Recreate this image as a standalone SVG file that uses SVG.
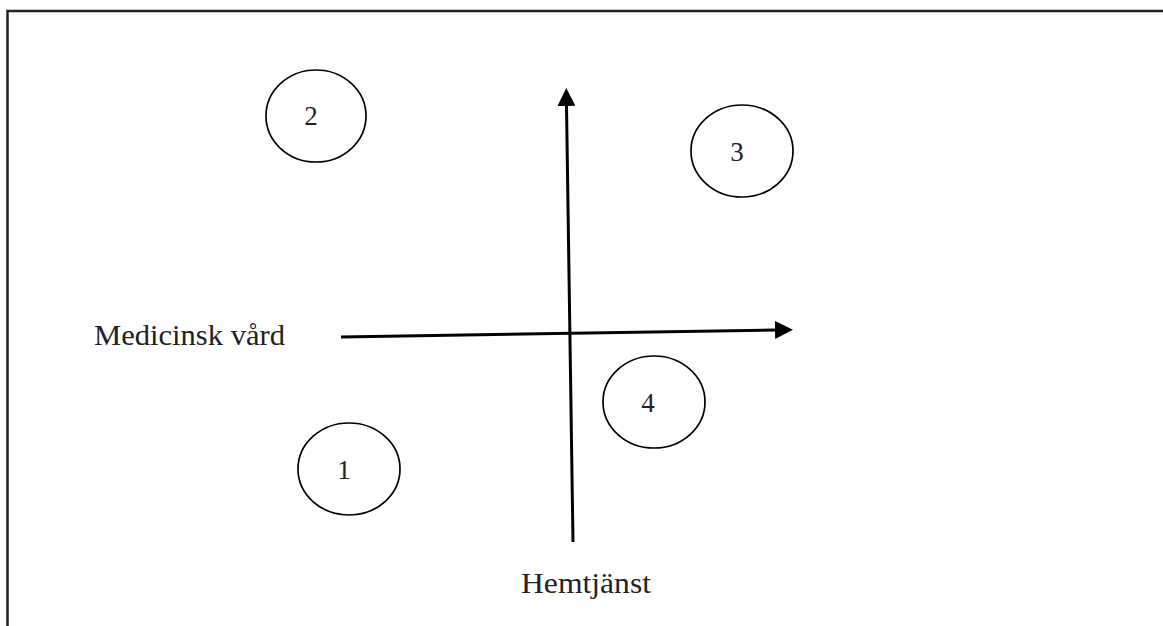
<svg xmlns="http://www.w3.org/2000/svg" width="1163" height="626" viewBox="0 0 1163 626">
<style>
.frame{fill:none;stroke:#222;stroke-width:2.5}
.axis{stroke:#000;stroke-width:3;fill:none}
.node{fill:#fff;stroke:#000;stroke-width:1.7}
.t{font-family:"Liberation Serif",serif;fill:#222}
.lbl{font-size:29px}
.num{font-size:27px;text-anchor:middle}
</style>
<defs>
<marker id="ah" markerWidth="6" markerHeight="6" refX="0" refY="3" orient="auto" markerUnits="strokeWidth">
<path d="M0,0 L6,3 L0,6 Z" fill="#000"/>
</marker>
</defs>
<path class="frame" d="M7.5,626 V11 H1163"/>
<g id="connectors">
<line class="axis" x1="573" y1="542" x2="566.5" y2="106" marker-end="url(#ah)"/>
<line class="axis" x1="341" y1="337" x2="775" y2="330" marker-end="url(#ah)"/>
</g>
<g id="node-2"><ellipse class="node" cx="316" cy="116" rx="50" ry="46"/><text class="t num" x="311" y="125">2</text></g>
<g id="node-3"><ellipse class="node" cx="742" cy="151" rx="51" ry="46"/><text class="t num" x="737" y="161">3</text></g>
<g id="node-4"><ellipse class="node" cx="654" cy="402" rx="51" ry="46"/><text class="t num" x="648" y="412">4</text></g>
<g id="node-1"><ellipse class="node" cx="349" cy="469" rx="51" ry="46"/><text class="t num" x="344" y="479">1</text></g>
<text class="t lbl" x="94" y="345" textLength="191" lengthAdjust="spacingAndGlyphs">Medicinsk vård</text>
<text class="t lbl" x="521" y="593" textLength="130" lengthAdjust="spacingAndGlyphs">Hemtjänst</text>
</svg>
